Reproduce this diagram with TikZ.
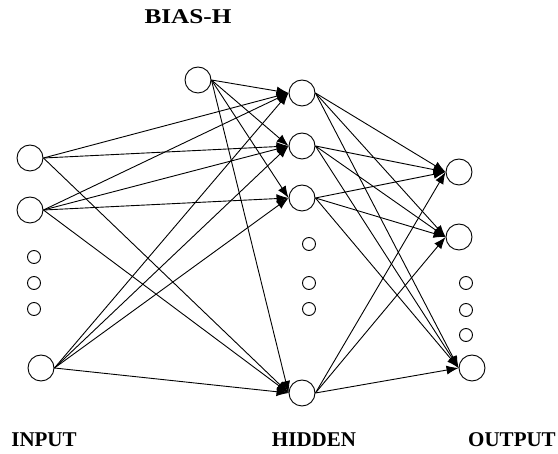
\documentclass[tikz,border=0pt]{standalone}
\usepackage{fontspec}
\setmainfont{Liberation Serif}
\usetikzlibrary{arrows.meta}
\tikzset{
  unit/.style={circle,draw,line width=0.9pt,minimum size=26pt,inner sep=0pt},
  dotunit/.style={circle,draw,line width=0.9pt,minimum size=13pt,inner sep=0pt},
  conn/.style={line width=0.9pt,-{Latex[length=12pt,width=9pt]}},
  lbl/.style={anchor=base,font=\bfseries\fontsize{21}{24}\selectfont,inner sep=0pt}
}
\begin{document}
\begin{tikzpicture}[x=1pt,y=-1pt]
\useasboundingbox (0,0) rectangle (558,454);
% input
\node[unit] (i1) at (30,158) {};
\node[unit] (i2) at (30,210) {};
\node[dotunit] (id1) at (34,257) {};
\node[dotunit] (id2) at (34,283) {};
\node[dotunit] (id3) at (34,309) {};
\node[unit] (i3) at (41,368) {};
% bias
\node[unit] (b) at (198,80) {};
% hidden
\node[unit] (h1) at (302,93) {};
\node[unit] (h2) at (302,146) {};
\node[unit] (h3) at (302,198) {};
\node[dotunit] (hd1) at (309,244) {};
\node[dotunit] (hd2) at (309,283) {};
\node[dotunit] (hd3) at (309,309) {};
\node[unit] (h4) at (302,393) {};
% output
\node[unit] (o1) at (459,172) {};
\node[unit] (o2) at (459,237) {};
\node[dotunit] (od1) at (466,283) {};
\node[dotunit] (od2) at (466,310) {};
\node[dotunit] (od3) at (466,335) {};
\node[unit] (o3) at (472,368) {};
% labels
\node[lbl] (lb) at (188,24) {\scalebox{1.2}[1]{BIAS-H}};
\node[lbl] (li) at (44,447) {INPUT};
\node[lbl] (lh) at (314,447) {HIDDEN};
\node[lbl] (lo) at (512,447) {OUTPUT};
% input -> hidden
\foreach \t in {h1,h2,h4} \draw[conn] (i1.east) -- (\t.west);
\foreach \t in {h1,h2,h3,h4} \draw[conn] (i2.east) -- (\t.west);
\foreach \t in {h1,h2,h3,h4} \draw[conn] (i3.east) -- (\t.west);
\foreach \t in {h1,h2,h3,h4} \draw[conn] (b.east) -- (\t.west);
% hidden -> output
\foreach \s in {h1,h2,h3,h4}
  \foreach \t in {o1,o2,o3} \draw[conn] (\s.east) -- (\t.west);
\end{tikzpicture}
\end{document}
